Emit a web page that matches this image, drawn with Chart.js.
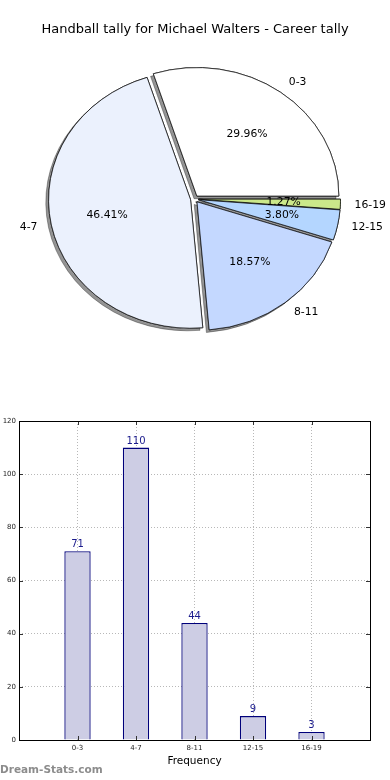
<!DOCTYPE html>
<html>
<head>
<meta charset="utf-8">
<title>Handball tally for Michael Walters</title>
<script src="https://cdn.jsdelivr.net/npm/chart.js@4.4.1/dist/chart.umd.min.js"></script>
<style>
    html, body { margin: 0; padding: 0; background: #fff; }
    #page { position: relative; width: 390px; height: 780px; }
    #pieWrap { position: absolute; left: 0; top: 0; width: 390px; height: 396px; }
    #barWrap { position: absolute; left: 0; top: 396px; width: 390px; height: 384px; }
</style>
</head>
<body>
<div id="page">
    <div id="pieWrap"><canvas id="pieChart"></canvas></div>
    <div id="barWrap"><canvas id="barChart"></canvas></div>
</div>
<script>
// Data
const categories = ['0-3', '4-7', '8-11', '12-15', '16-19'];
const tallies = [71, 110, 44, 9, 3];
const sliceColors = ['#ffffff', '#ebf1fd', '#c4d8ff', '#b4d6ff', '#cbe88a'];
const yTicks = [0, 20, 40, 60, 80, 100, 120];

const chartTitle = 'Handball tally for Michael Walters - Career tally';
const xAxisTitle = 'Frequency';
const watermark = 'Dream-Stats.com';

const FONT = '"DejaVu Sans", Verdana, sans-serif';

/**
 * Pie: matplotlib style, counter-clockwise from 3 o'clock, exploded wedges
 * with a drop shadow, squashed a little vertically.
 */
const pieLook = {
    explode: 4,
    squash: 0.905,
    shadowX: -2.8,
    shadowY: 2.6
};

// Chart.js goes clockwise, so feed the slices in reverse order
const pieOrder = categories.map((c, i) => i).reverse();

const explodedPie = {
    id: 'explodedPie',

    beforeDatasetsDraw(chart) {
        const ctx = chart.ctx;
        const arcs = chart.getDatasetMeta(0).data;
        if (!arcs.length) return;
        const cx = arcs[0].x;
        const cy = arcs[0].y;

        ctx.save();
        ctx.translate(cx, cy);
        ctx.scale(1, pieLook.squash);
        ctx.translate(-cx, -cy);

        // first pass leaves the shadows, second pass puts the wedges on top
        [true, false].forEach(withShadow => {
            arcs.forEach(arc => {
                const mid = (arc.startAngle + arc.endAngle) / 2;
                ctx.save();
                ctx.translate(Math.cos(mid) * pieLook.explode, Math.sin(mid) * pieLook.explode);
                if (withShadow) {
                    ctx.shadowColor = 'rgba(0, 0, 0, 0.42)';
                    ctx.shadowBlur = 0;
                    ctx.shadowOffsetX = pieLook.shadowX;
                    ctx.shadowOffsetY = pieLook.shadowY;
                }
                arc.draw(ctx);
                ctx.restore();
            });
        });

        ctx.restore();
        return false;
    },

    afterDraw(chart) {
        const ctx = chart.ctx;
        const arcs = chart.getDatasetMeta(0).data;
        const values = chart.data.datasets[0].data;
        const total = values.reduce((a, b) => a + b, 0);

        ctx.save();
        ctx.fillStyle = '#000';

        // title
        ctx.font = `13px ${FONT}`;
        ctx.textAlign = 'center';
        ctx.textBaseline = 'middle';
        ctx.fillText(chartTitle, chart.width / 2, 30);

        ctx.font = `10.8px ${FONT}`;
        arcs.forEach((arc, i) => {
            const mid = (arc.startAngle + arc.endAngle) / 2;
            const ux = Math.cos(mid);
            const uy = Math.sin(mid);
            const r = arc.outerRadius;
            const ox = arc.x + ux * pieLook.explode;
            const oy = arc.y + uy * pieLook.explode * pieLook.squash;

            // category label outside
            ctx.textAlign = ux > 0 ? 'left' : 'right';
            ctx.fillText(chart.data.labels[i], ox + ux * r * 1.1, oy + uy * r * 1.1 * pieLook.squash);

            // percentage inside
            ctx.textAlign = 'center';
            const pct = (values[i] / total * 100).toFixed(2) + '%';
            ctx.fillText(pct, ox + ux * r * 0.6, oy + uy * r * 0.6 * pieLook.squash);
        });
        ctx.restore();
    }
};

new Chart(document.getElementById('pieChart'), {
    type: 'pie',
    data: {
        labels: pieOrder.map(i => categories[i]),
        datasets: [{
            data: pieOrder.map(i => tallies[i]),
            backgroundColor: pieOrder.map(i => sliceColors[i]),
            borderColor: '#111',
            borderWidth: 0.8,
            clip: false
        }]
    },
    options: {
        responsive: true,
        maintainAspectRatio: false,
        animation: false,
        events: [],
        rotation: 90,
        radius: 142,
        layout: { padding: { top: 2, right: 1 } },
        plugins: {
            legend: { display: false },
            tooltip: { enabled: false },
            title: { display: false }
        }
    },
    plugins: [explodedPie]
});

/**
 * Bar chart
 */
const barLabels = ['', ...categories, ''];
const barValues = [null, ...tallies, null];

const barExtras = {
    id: 'barExtras',

    afterDatasetsDraw(chart) {
        const ctx = chart.ctx;
        const { left, top, right, bottom } = chart.chartArea;
        const bars = chart.getDatasetMeta(0).data;
        const values = chart.data.datasets[0].data;

        ctx.save();
        // value on top of each bar
        ctx.font = `10px ${FONT}`;
        ctx.fillStyle = '#1a1a8c';
        ctx.textAlign = 'center';
        ctx.textBaseline = 'alphabetic';
        bars.forEach((bar, i) => {
            if (values[i] == null) return;
            ctx.fillText(String(values[i]), bar.x, bar.y - 4);
        });

        // inward tick marks, matplotlib style
        const tickLen = 4;
        ctx.strokeStyle = '#333';
        ctx.lineWidth = 1;
        ctx.beginPath();
        const xScale = chart.scales.x;
        barValues.forEach((v, i) => {
            if (v == null) return;
            const px = Math.round(xScale.getPixelForValue(i)) + 0.5;
            ctx.moveTo(px, top); ctx.lineTo(px, top + tickLen);
            ctx.moveTo(px, bottom); ctx.lineTo(px, bottom - tickLen);
        });
        const yScale = chart.scales.y;
        yTicks.forEach(v => {
            const py = Math.round(yScale.getPixelForValue(v)) + 0.5;
            ctx.moveTo(left, py); ctx.lineTo(left + tickLen, py);
            ctx.moveTo(right, py); ctx.lineTo(right - tickLen, py);
        });
        ctx.stroke();

        // axes frame
        ctx.strokeStyle = '#000';
        ctx.strokeRect(left + 0.5, top + 0.5, right - left, bottom - top);
        ctx.restore();
    },

    afterDraw(chart) {
        const ctx = chart.ctx;
        ctx.save();
        ctx.font = `bold 10.5px ${FONT}`;
        ctx.fillStyle = '#8c8c8c';
        ctx.textAlign = 'left';
        ctx.textBaseline = 'middle';
        ctx.fillText(watermark, 0, chart.height - 10);
        ctx.restore();
    }
};

const dottedGrid = {
    color: '#b8b8b8',
    lineWidth: 1,
    drawTicks: false,
    offset: false
};

new Chart(document.getElementById('barChart'), {
    type: 'bar',
    data: {
        labels: barLabels,
        datasets: [{
            data: barValues,
            backgroundColor: '#cdcde4',
            borderColor: '#00007a',
            borderWidth: 1.3,
            barPercentage: 0.45,
            categoryPercentage: 1
        }]
    },
    options: {
        responsive: true,
        maintainAspectRatio: false,
        animation: false,
        events: [],
        layout: { padding: { top: 25, right: 20, left: 0, bottom: 0 } },
        plugins: {
            legend: { display: false },
            tooltip: { enabled: false }
        },
        scales: {
            x: {
                offset: false,
                grid: dottedGrid,
                border: { display: false, dash: [1, 2] },
                ticks: {
                    font: { family: FONT, size: 7 },
                    color: '#222',
                    padding: 4,
                    maxRotation: 0,
                    autoSkip: false
                },
                title: {
                    display: true,
                    text: xAxisTitle,
                    font: { family: FONT, size: 10.5 },
                    color: '#000',
                    padding: { top: 0, bottom: 12 }
                },
                afterFit(scale) { scale.height = 40; }
            },
            y: {
                min: yTicks[0],
                max: yTicks[yTicks.length - 1],
                afterBuildTicks(scale) {
                    scale.ticks = yTicks.map(v => ({ value: v }));
                },
                grid: dottedGrid,
                border: { display: false, dash: [1, 2] },
                ticks: {
                    font: { family: FONT, size: 7 },
                    color: '#222',
                    padding: 3
                },
                afterFit(scale) { scale.width = 19; }
            }
        }
    },
    plugins: [barExtras]
});
</script>
</body>
</html>
